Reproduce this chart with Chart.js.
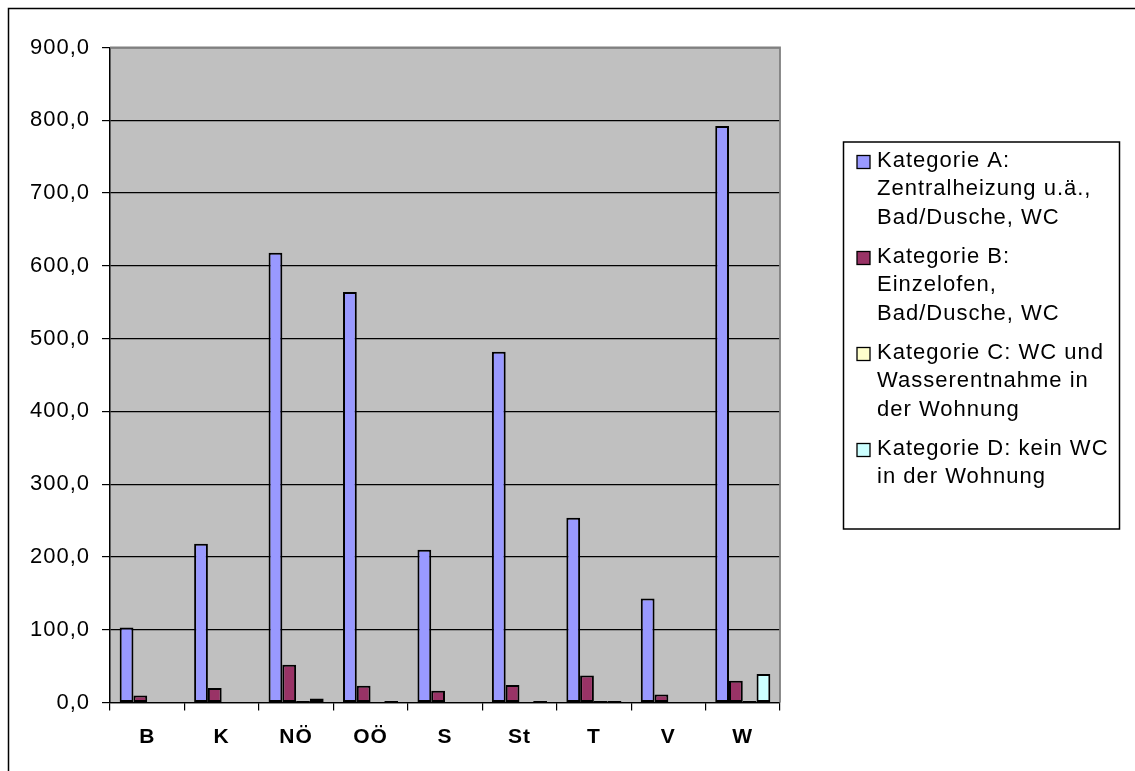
<!DOCTYPE html>
<html>
<head>
<meta charset="utf-8">
<script src="https://cdn.jsdelivr.net/npm/chart.js@4"></script>
<style>
  html, body { margin: 0; padding: 0; background: #fff; }
  #wrap { width: 1135px; height: 771px; }
</style>
</head>
<body>
<div id="wrap"><canvas id="c" width="1135" height="771"></canvas></div>
<script>
"use strict";

// Bundesländer
const regions = ["B", "K", "NÖ", "OÖ", "S", "St", "T", "V", "W"];

// values
const katA = [103, 218, 618, 564, 210, 482, 254, 143, 792];
const katB = [9.5, 20, 52, 23, 16, 24, 37, 11, 30];
const katC = [0, 0, 2, 0, 0, 0, 2, 0, 2];
const katD = [0, 0, 5.5, 2, 0, 2, 2, 0, 39];

const yTicks = [0, 100, 200, 300, 400, 500, 600, 700, 800, 900];

const seriesNames = [
  "Kategorie A: Zentralheizung u.ä., Bad/Dusche, WC",
  "Kategorie B: Einzelofen, Bad/Dusche, WC",
  "Kategorie C: WC und Wasserentnahme in der Wohnung",
  "Kategorie D: kein WC in der Wohnung",
];
// how the legend wraps them
const legendLines = [
  ["Kategorie A:", "Zentralheizung u.ä.,", "Bad/Dusche, WC"],
  ["Kategorie B:", "Einzelofen,", "Bad/Dusche, WC"],
  ["Kategorie C: WC und", "Wasserentnahme in", "der Wohnung"],
  ["Kategorie D: kein WC", "in der Wohnung"],
];
const seriesColors = ["#9999FF", "#993366", "#FFFFCC", "#CCFFFF"];

const FONT = "'Liberation Sans', Arial, sans-serif";
const LS = "1px";

const fmt = (v) => v.toFixed(1).replace(".", ",");

// Excel-ish spacing between letters
const spacing = {
  id: "spacing",
  beforeLayout(chart) { chart.ctx.letterSpacing = LS; },
  beforeDraw(chart) { chart.ctx.letterSpacing = LS; },
};

// grey plot area, outer frame
const plotBg = {
  id: "plotBg",
  beforeDraw(chart) {
    const { ctx, chartArea: a } = chart;
    ctx.save();
    ctx.fillStyle = "#C0C0C0";
    ctx.fillRect(a.left, a.top, a.right - a.left, a.bottom - a.top);
    ctx.strokeStyle = "#000";
    ctx.lineWidth = 1.5;
    ctx.strokeRect(8.5, 8.5, 1200, 900);
    ctx.restore();
  },
  beforeDatasetsDraw(chart) {
    const { ctx, chartArea: a } = chart;
    ctx.save();
    ctx.strokeStyle = "#808080";
    ctx.lineWidth = 1.8;
    ctx.beginPath();
    ctx.moveTo(a.left, a.top);
    ctx.lineTo(a.right, a.top);
    ctx.lineTo(a.right, a.bottom);
    ctx.stroke();
    ctx.restore();
  },
};

// boxed legend on the right
const boxLegend = {
  id: "boxLegend",
  afterDraw(chart) {
    const ctx = chart.ctx;
    ctx.save();
    ctx.letterSpacing = LS;
    ctx.strokeStyle = "#000";
    ctx.lineWidth = 1.5;
    ctx.strokeRect(843.5, 142, 276, 387);
    ctx.font = `22px ${FONT}`;
    ctx.textBaseline = "middle";
    ctx.textAlign = "left";
    chart.data.datasets.forEach((ds, i) => {
      const y0 = 160.5 + i * 96;
      ctx.fillStyle = ds.backgroundColor;
      ctx.fillRect(857, y0 - 5, 13, 13);
      ctx.lineWidth = 1.3;
      ctx.strokeRect(857, y0 - 5, 13, 13);
      ctx.fillStyle = "#000";
      legendLines[i].forEach((line, j) => {
        ctx.fillText(line, 877, y0 + j * 28.7);
      });
    });
    ctx.restore();
  },
};

const datasets = [katA, katB, katC, katD].map((vals, i) => ({
  label: seriesNames[i],
  data: vals,
  backgroundColor: seriesColors[i],
  borderColor: "#000",
  borderWidth: 2,
  borderSkipped: false,
  categoryPercentage: 0.74,
  barPercentage: 1.0,
}));

new Chart(document.getElementById("c"), {
  type: "bar",
  data: { labels: regions, datasets },
  plugins: [spacing, plotBg, boxLegend],
  options: {
    responsive: false,
    animation: false,
    devicePixelRatio: 1,
    layout: { padding: { left: 0, right: 355, top: 47.5, bottom: 0 } },
    plugins: { legend: { display: false }, tooltip: { enabled: false } },
    scales: {
      x: {
        afterFit: (s) => { s.height = 68.5; },
        grid: { offset: true, drawOnChartArea: false, drawTicks: true, tickLength: 8, color: "#000", lineWidth: 1.2 },
        border: { display: true, color: "#000", width: 1.2 },
        ticks: {
          color: "#000",
          padding: 14,
          autoSkip: false,
          maxRotation: 0,
          font: { family: FONT, size: 21, weight: "bold" },
        },
      },
      y: {
        min: 0,
        max: 900,
        afterFit: (s) => { s.width = 110; },
        afterBuildTicks: (s) => { s.ticks = yTicks.map((v) => ({ value: v })); },
        grid: { color: "#000", lineWidth: 1.2, tickLength: 8 },
        border: { display: true, color: "#000", width: 1.5 },
        ticks: {
          color: "#000",
          padding: 12,
          font: { family: FONT, size: 22 },
          callback: (v) => fmt(v),
        },
      },
    },
  },
});
</script>
</body>
</html>
